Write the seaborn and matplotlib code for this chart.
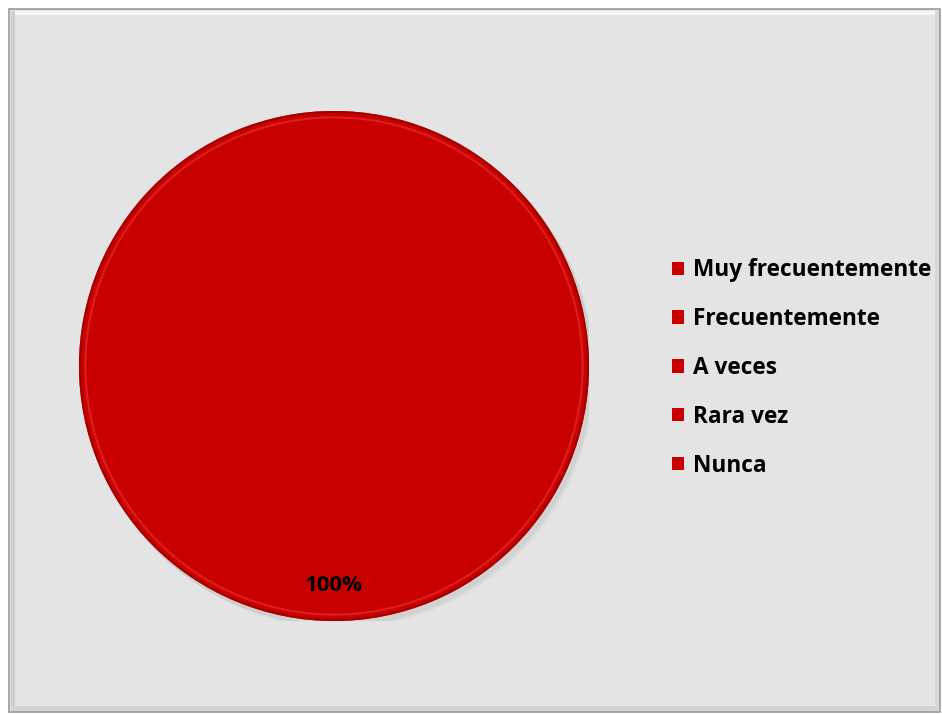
import matplotlib
matplotlib.use("Agg")
import matplotlib.pyplot as plt
import seaborn as sns
from matplotlib.patches import Rectangle, Circle, Patch

categories = ["Muy frecuentemente", "Frecuentemente", "A veces", "Rara vez", "Nunca"]
values = [100, 0, 0, 0, 0]
slice_labels = ["100%", "", "", "", ""]

sns.set_theme(style="white")
plt.rcParams["font.family"] = ["Open Sans", "DejaVu Sans"]

red = "#C80000"
palette = sns.color_palette([red] * len(categories))

W, H = 942, 714
fig = plt.figure(figsize=(W / 100, H / 100), dpi=100)
fig.patch.set_facecolor("white")

# framed chart area
bg = fig.add_axes([0, 0, 1, 1])
bg.set_xlim(0, W)
bg.set_ylim(H, 0)
bg.axis("off")
bg.add_patch(Rectangle((9, 9), 931, 703, facecolor="#E4E4E4", edgecolor="#9A9A9A", lw=1.2))
bg.add_patch(Rectangle((11, 11), 927, 4, facecolor="#F7F7F7", edgecolor="none"))
bg.add_patch(Rectangle((11, 11), 4, 699, facecolor="#CFCFCF", edgecolor="none"))
bg.add_patch(Rectangle((935, 11), 4, 699, facecolor="#D8D8D8", edgecolor="none"))
bg.add_patch(Rectangle((11, 706), 927, 5, facecolor="#D4D4D4", edgecolor="none"))

# pie axes placed in pixel terms
cx, cy, r = 334, 366, 255
ax = fig.add_axes([(cx - r) / W, (H - cy - r) / H, 2 * r / W, 2 * r / H])
ax.set_aspect("equal")
ax.axis("off")

# soft drop shadow
for i, a in enumerate([0.06, 0.05, 0.04]):
    ax.add_patch(Circle((0.010 + i * 0.005, -0.014 - i * 0.005), 1.0, color="#707070", alpha=a, zorder=0))

wedges, texts = ax.pie(values, colors=palette, startangle=90, counterclock=False, radius=1.0,
                       labels=slice_labels, labeldistance=0.86,
                       wedgeprops=dict(linewidth=0),
                       textprops=dict(fontsize=16, fontweight="bold", color="black"))
for t in texts:
    t.set_ha("center")
ax.set_xlim(-1, 1)
ax.set_ylim(-1, 1)
# bevel rim
ax.add_patch(Circle((0, 0), 0.975, fill=False, edgecolor="#E52A2A", lw=1.6, alpha=0.7, zorder=3))
ax.add_patch(Circle((0, 0), 0.996, fill=False, edgecolor="#A00000", lw=1.6, alpha=0.9, zorder=3))

handles = [Patch(facecolor=c, edgecolor="none") for c in palette]
leg = fig.legend(handles, categories, loc="center left", bbox_to_anchor=(672 / W, 1 - 368 / H),
                 frameon=False, handlelength=0.52, handleheight=0.52, handletextpad=0.42,
                 labelspacing=1.1, borderaxespad=0, borderpad=0,
                 prop=dict(size=16.3, weight="bold"))
for t in leg.get_texts():
    t.set_color("black")

fig.savefig("out.png", dpi=100)
